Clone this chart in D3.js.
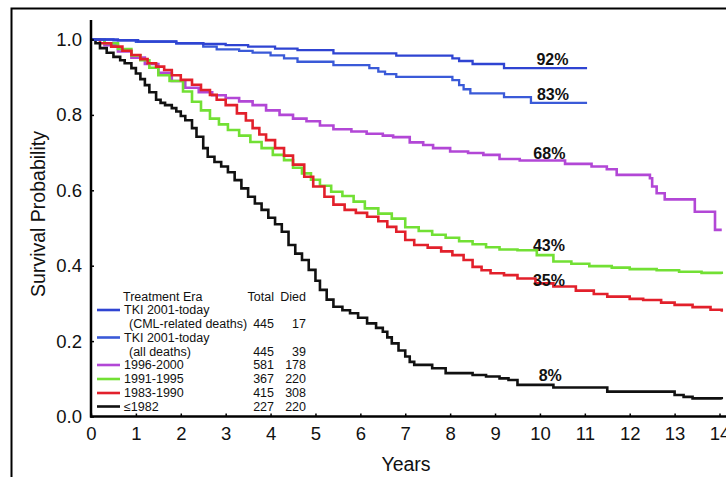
<!DOCTYPE html>
<html><head><meta charset="utf-8">
<script src="https://cdn.jsdelivr.net/npm/d3@7/dist/d3.min.js"></script>
<style>body{margin:0;background:#fff}svg{display:block}</style>
</head><body>
<svg id="c" width="726" height="477"></svg>
<script>
// ---------- DATA ----------
const xTicks = [0,1,2,3,4,5,6,7,8,9,10,11,12,13,14];
const yTicks = [0,0.2,0.4,0.6,0.8,1.0];
const yTickLabels = ["0.0","0.2","0.4","0.6","0.8","1.0"];

const tkiCmlT = [0,0.6,1.05,1.9,2.5,3.0,3.5,4.1,4.6,5.4,6.8,8.05,8.2,8.5,9.2,11.05];
const tkiCmlS = [1.0,0.998,0.995,0.99,0.988,0.985,0.981,0.976,0.972,0.963,0.957,0.950,0.943,0.935,0.924,0.924];

const tkiAllT = [0,0.5,1.0,1.9,2.5,2.8,3.3,3.6,4.0,4.3,4.6,5.4,6.2,6.4,6.55,6.8,8.05,8.2,8.3,8.45,9.2,9.8,11.05];
const tkiAllS = [1.0,0.998,0.994,0.99,0.981,0.974,0.970,0.965,0.958,0.950,0.941,0.932,0.924,0.915,0.908,0.901,0.892,0.879,0.868,0.857,0.847,0.832,0.832];

const era9600T = [0,0.3,0.6,0.9,1.2,1.5,1.8,2.1,2.4,2.7,3.0,3.3,3.6,3.9,4.2,4.5,4.8,5.1,5.4,5.8,6.14,6.5,6.73,7.1,7.4,7.62,8.0,8.4,8.74,9.1,9.55,10.56,11.15,11.49,11.71,12.45,12.5,12.6,12.78,13.45,13.9,14.05];
const era9600S = [1.0,0.985,0.968,0.952,0.935,0.912,0.89,0.872,0.86,0.852,0.845,0.836,0.826,0.812,0.8,0.79,0.783,0.772,0.762,0.756,0.750,0.745,0.741,0.727,0.72,0.712,0.703,0.699,0.694,0.683,0.679,0.670,0.663,0.656,0.641,0.632,0.61,0.592,0.576,0.543,0.495,0.495];

const era9195T = [0,0.3,0.6,0.9,1.1,1.3,1.5,1.75,2.05,2.25,2.45,2.65,2.85,3.05,3.3,3.55,3.8,4.05,4.3,4.5,4.7,4.9,5.1,5.35,5.6,5.85,6.1,6.4,6.7,7.0,7.3,7.6,7.9,8.2,8.5,8.8,9.1,9.5,9.93,10.3,10.7,11.1,11.6,12.0,12.6,13.1,13.6,14.05];
const era9195S = [1.0,0.99,0.975,0.958,0.945,0.925,0.905,0.89,0.862,0.835,0.812,0.79,0.775,0.76,0.745,0.728,0.712,0.694,0.68,0.66,0.645,0.628,0.612,0.596,0.585,0.570,0.552,0.538,0.525,0.502,0.492,0.482,0.474,0.465,0.457,0.449,0.443,0.441,0.428,0.411,0.405,0.399,0.395,0.391,0.388,0.384,0.381,0.378];

const era8390T = [0,0.2,0.45,0.7,0.9,1.1,1.26,1.45,1.63,1.8,2.0,2.25,2.45,2.65,2.8,3.0,3.25,3.45,3.6,3.75,3.9,4.1,4.3,4.5,4.75,4.95,5.2,5.4,5.65,5.9,6.15,6.4,6.6,6.8,7.0,7.2,7.5,7.8,8.05,8.3,8.5,8.7,8.9,9.2,9.5,9.9,10.3,10.8,11.2,11.5,12.0,12.3,12.7,13.0,13.4,13.8,14.05];
const era8390S = [1.0,0.99,0.981,0.97,0.959,0.948,0.937,0.928,0.919,0.905,0.893,0.88,0.866,0.853,0.84,0.826,0.804,0.785,0.765,0.748,0.733,0.712,0.692,0.668,0.636,0.61,0.583,0.562,0.548,0.54,0.530,0.518,0.503,0.49,0.468,0.455,0.448,0.438,0.428,0.415,0.397,0.388,0.380,0.375,0.366,0.353,0.345,0.334,0.325,0.318,0.312,0.309,0.302,0.296,0.29,0.283,0.278];

const era82T = [0,0.1,0.2,0.35,0.5,0.65,0.75,0.9,1.0,1.1,1.2,1.3,1.45,1.55,1.65,1.8,1.9,2.0,2.1,2.25,2.35,2.5,2.6,2.75,2.9,3.05,3.2,3.35,3.5,3.65,3.8,3.95,4.1,4.25,4.4,4.55,4.7,4.85,5.0,5.1,5.25,5.4,5.6,5.77,5.95,6.15,6.35,6.5,6.6,6.7,6.85,7.0,7.1,7.2,7.6,7.9,8.5,8.8,9.1,9.3,9.5,10.3,11.5,13.0,13.2,13.4,14.05];
const era82S = [1.0,0.99,0.977,0.965,0.954,0.945,0.937,0.924,0.91,0.895,0.879,0.86,0.84,0.832,0.826,0.818,0.809,0.797,0.786,0.765,0.742,0.712,0.689,0.675,0.663,0.648,0.627,0.605,0.583,0.565,0.548,0.527,0.51,0.49,0.455,0.432,0.415,0.389,0.36,0.336,0.31,0.291,0.282,0.274,0.262,0.247,0.235,0.225,0.21,0.194,0.175,0.159,0.145,0.137,0.128,0.115,0.11,0.106,0.101,0.097,0.084,0.077,0.066,0.057,0.052,0.048,0.046];

const legendNames = ["TKI 2001-today","TKI 2001-today","1996-2000","1991-1995","1983-1990","≤1982"];
const legendSub = ["(CML-related deaths)","(all deaths)","","","",""];
const legendTotal = ["445","445","581","367","415","227"];
const legendDied = ["17","39","178","220","308","220"];
const endLabels = ["92%","83%","68%","43%","35%","8%"];

// ---------- DRAWING ----------
const svg = d3.select("#c");
const FONT = "Arial, 'Liberation Sans', Helvetica, sans-serif";
const x = d3.scaleLinear().domain([0,14]).range([91,719.5]);
const y = d3.scaleLinear().domain([0,1]).range([416.5,39.5]);

// frame
svg.append("rect").attr("x",11.5).attr("y",8.5).attr("width",760).attr("height",520)
  .attr("fill","none").attr("stroke","#000").attr("stroke-width",2);

const series = [
  {t:era9600T, s:era9600S, color:"#b247d6", w:2.6},
  {t:era9195T, s:era9195S, color:"#72e034", w:2.6},
  {t:era8390T, s:era8390S, color:"#e2202b", w:2.6},
  {t:era82T,   s:era82S,   color:"#111111", w:2.6},
  {t:tkiAllT,  s:tkiAllS,  color:"#3a5ad8", w:2.3},
  {t:tkiCmlT,  s:tkiCmlS,  color:"#2f44d2", w:2.3}
];
const line = d3.line().x(d=>x(d[0])).y(d=>y(d[1])).curve(d3.curveStepAfter);
series.forEach(sr=>{
  const pts = sr.t.map((t,i)=>[t,sr.s[i]]);
  svg.append("path").attr("d",line(pts)).attr("fill","none")
    .attr("stroke",sr.color).attr("stroke-width",sr.w).attr("stroke-linejoin","miter");
});

// axes
const xAxis = d3.axisBottom(x).tickValues(xTicks).tickFormat(d3.format("d"))
  .tickSizeInner(-3).tickSizeOuter(0).tickPadding(10);
const gx = svg.append("g").attr("transform","translate(0,416.5)").call(xAxis);
gx.select(".domain").remove();
gx.selectAll("line").attr("stroke","#000").attr("stroke-width",1.5);
gx.selectAll("text").attr("font-family",FONT).attr("font-size",18.5).attr("fill","#111");

const yAxis = d3.axisLeft(y).tickValues(yTicks).tickFormat((d,i)=>yTickLabels[i])
  .tickSizeInner(-3).tickSizeOuter(0).tickPadding(9);
const gy = svg.append("g").attr("transform","translate(91,0)").call(yAxis);
gy.select(".domain").remove();
gy.selectAll("line").attr("stroke","#000").attr("stroke-width",1.5);
gy.selectAll("text").attr("font-family",FONT).attr("font-size",18.5).attr("fill","#111");

svg.append("line").attr("x1",91).attr("x2",91).attr("y1",20).attr("y2",417.5)
  .attr("stroke","#000").attr("stroke-width",2.5);
svg.append("line").attr("x1",90).attr("x2",726).attr("y1",416.5).attr("y2",416.5)
  .attr("stroke","#000").attr("stroke-width",2.5);

svg.append("text").attr("x",406).attr("y",471).attr("text-anchor","middle")
  .attr("font-family",FONT).attr("font-size",19.5).attr("fill","#111").text("Years");
svg.append("text").attr("transform","translate(45,214) rotate(-90)").attr("text-anchor","middle")
  .attr("font-family",FONT).attr("font-size",19.5).attr("fill","#111").text("Survival Probability");

// end labels
const labelPos = [[10.28,0.932],[10.29,0.839],[10.21,0.683],[10.2,0.438],[10.2,0.346],[10.23,0.093]];
endLabels.forEach((txt,i)=>{
  svg.append("text").attr("x",x(labelPos[i][0])).attr("y",y(labelPos[i][1]))
    .attr("text-anchor","middle").attr("font-family",FONT).attr("font-weight","bold")
    .attr("font-size",16).attr("fill","#111").text(txt);
});

// legend
const lg = svg.append("g").attr("font-family",FONT).attr("font-size",12.5).attr("fill","#111");
lg.append("text").attr("x",123).attr("y",300.5).text("Treatment Era");
lg.append("text").attr("x",274).attr("y",300.5).attr("text-anchor","end").text("Total");
lg.append("text").attr("x",306).attr("y",300.5).attr("text-anchor","end").text("Died");
const legendColors = ["#2f44d2","#3a5ad8","#b247d6","#72e034","#e2202b","#111111"];
const rowY = [310,337.5,365,379,393,406.5];
legendNames.forEach((nm,i)=>{
  const ry = rowY[i];
  lg.append("line").attr("x1",97).attr("x2",120).attr("y1",ry).attr("y2",ry)
    .attr("stroke",legendColors[i]).attr("stroke-width",2.6);
  lg.append("text").attr("x",124).attr("y",ry+4.3).text(nm);
  const numY = legendSub[i] ? ry+13.7 : ry;
  if (legendSub[i]) lg.append("text").attr("x",129).attr("y",numY+4.3).text(legendSub[i]);
  lg.append("text").attr("x",274).attr("y",numY+4.3).attr("text-anchor","end").text(legendTotal[i]);
  lg.append("text").attr("x",306).attr("y",numY+4.3).attr("text-anchor","end").text(legendDied[i]);
});
</script></body></html>
